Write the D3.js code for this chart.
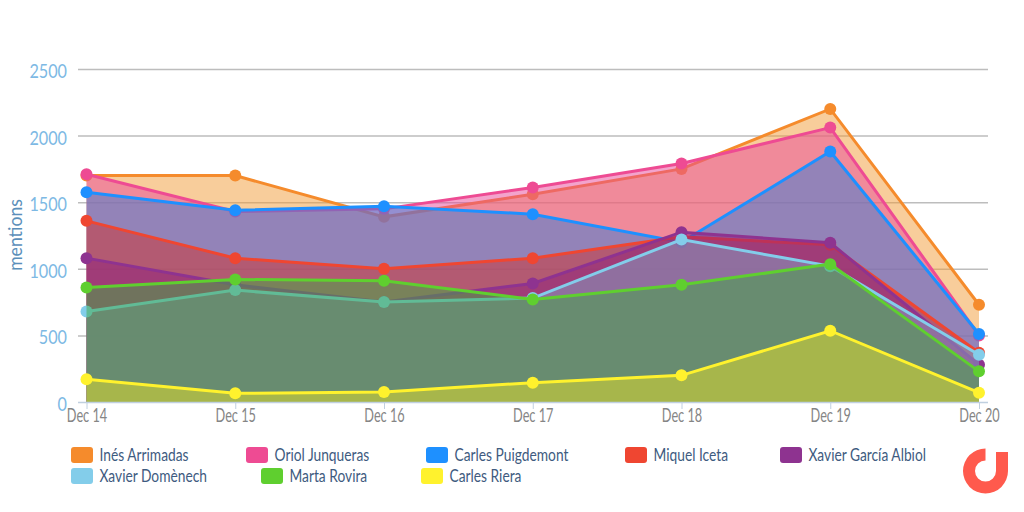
<!DOCTYPE html>
<html>
<head>
<meta charset="utf-8">
<script src="https://cdnjs.cloudflare.com/ajax/libs/d3/7.8.5/d3.min.js"></script>
<style>
  html, body { margin: 0; padding: 0; background: #fff; }
  svg { display: block; }
  text { font-family: Lato, "Noto Sans", sans-serif; }
  .grid line { stroke: #bdbdbd; stroke-width: 1.5; }
  .grid path { display: none; }
</style>
</head>
<body>
<svg id="chart" width="1024" height="512"></svg>
<script>
var days = ["Dec 14", "Dec 15", "Dec 16", "Dec 17", "Dec 18", "Dec 19", "Dec 20"];
var yTicks = [0, 500, 1000, 1500, 2000, 2500];

var names = ["Inés Arrimadas", "Oriol Junqueras", "Carles Puigdemont", "Miquel Iceta",
  "Xavier García Albiol", "Xavier Domènech", "Marta Rovira", "Carles Riera"];
var colores = ["#f58b2c", "#ee4b93", "#1e90ff", "#ef4631", "#8e3390", "#83cdea", "#5fcf2f", "#fff22d"];
var rellenos = ["#f19b37", "#e84799", "#367cd6", "#d3312c", "#8d1e7e", "#80a2c6", "#40aa41", "#e6e026"];

var ines = [1700, 1700, 1390, 1560, 1750, 2200, 730];
var oriol = [1710, 1430, 1450, 1610, 1790, 2060, 500];
var puigdemont = [1575, 1440, 1470, 1410, 1200, 1880, 510];
var iceta = [1360, 1080, 1000, 1080, 1240, 1180, 370];
var albiol = [1080, 880, 750, 890, 1275, 1195, 280];
var domenech = [680, 840, 750, 780, 1220, 1020, 355];
var rovira = [860, 920, 910, 770, 880, 1035, 230];
var riera = [170, 65, 75, 145, 200, 535, 70];
var series = [ines, oriol, puigdemont, iceta, albiol, domenech, rovira, riera];

var svg = d3.select("#chart");
var x = d3.scalePoint().domain(days).range([86.5, 979]);
var y = d3.scaleLinear().domain([0, 2500]).range([402, 69]);

// squeeze text, the original font is a narrow one
function estrecho(sel, k) {
  sel.each(function() {
    this.setAttribute("textLength", this.getComputedTextLength() * k);
    this.setAttribute("lengthAdjust", "spacingAndGlyphs");
  });
}

// grid
svg.append("g").attr("class", "grid")
  .attr("transform", "translate(78,0)")
  .call(d3.axisRight(y).tickValues(yTicks.slice(1)).tickSize(910).tickFormat(""));

// series, each one on top of the one before
var area = d3.area().x(function(d, i) { return x(days[i]); }).y0(y(0)).y1(function(d) { return y(d); });
var line = d3.line().x(function(d, i) { return x(days[i]); }).y(function(d) { return y(d); });

var grupos = svg.selectAll("g.serie").data(series).enter().append("g").attr("class", "serie");
grupos.append("path").attr("d", area)
  .attr("fill", function(d, i) { return rellenos[i]; }).attr("fill-opacity", 0.5);
grupos.append("path").attr("d", line).attr("fill", "none").attr("stroke-width", 3)
  .attr("stroke", function(d, i) { return colores[i]; });
grupos.each(function(d, i) {
  d3.select(this).selectAll("circle").data(d).enter().append("circle")
    .attr("cx", function(v, j) { return x(days[j]); })
    .attr("cy", function(v) { return y(v); })
    .attr("r", 6).attr("fill", colores[i]);
});

// x axis
var ejeX = svg.append("g").attr("transform", "translate(0,402)")
  .call(d3.axisBottom(x).tickSize(7).tickPadding(0));
ejeX.select("path").remove();
svg.append("line").attr("x1", 78).attr("x2", 988).attr("y1", 402.5).attr("y2", 402.5)
  .attr("stroke", "#c0d0e0").attr("stroke-width", 1.5);
ejeX.selectAll("line").attr("stroke", "#c0d0e0");
ejeX.selectAll("text").attr("fill", "#858585").style("font-size", "19px").call(estrecho, 0.67);

// y labels
var ejeY = svg.append("g").attr("transform", "translate(78,2)")
  .call(d3.axisLeft(y).tickValues(yTicks).tickSize(0).tickPadding(11).tickFormat(d3.format("d")));
ejeY.select("path").remove();
ejeY.selectAll("text").attr("fill", "#7db9e4").style("font-size", "20px").call(estrecho, 0.81);

svg.append("text").attr("transform", "translate(22,235) rotate(-90)")
  .attr("text-anchor", "middle").attr("fill", "#5b8fba").style("font-size", "20px").text("mentions")
  .call(estrecho, 0.88);

// legend
var leyendaX = [71, 246, 426, 625, 780, 71, 261, 421];
var leyendaY = [447, 447, 447, 447, 447, 468, 468, 468];
var items = svg.selectAll("g.item").data(names).enter().append("g").attr("class", "item")
  .attr("transform", function(d, i) { return "translate(" + leyendaX[i] + "," + leyendaY[i] + ")"; });
items.append("rect").attr("width", 22).attr("height", 16).attr("rx", 3)
  .attr("fill", function(d, i) { return colores[i]; });
items.append("text").attr("x", 28.5).attr("y", 14).attr("fill", "#3e5b80")
  .style("font-size", "17px").text(function(d) { return d; }).call(estrecho, 0.81);

// logo
var logo = svg.append("g").attr("transform", "translate(985.5,471)").attr("fill", "#ff5a4d");
logo.append("path").attr("d", d3.arc().innerRadius(10.5).outerRadius(22.5)
  .startAngle(Math.PI / 2).endAngle(Math.PI * 2)());
logo.append("rect").attr("x", 10.5).attr("y", -19).attr("width", 12).attr("height", 19);
</script>
</body>
</html>
